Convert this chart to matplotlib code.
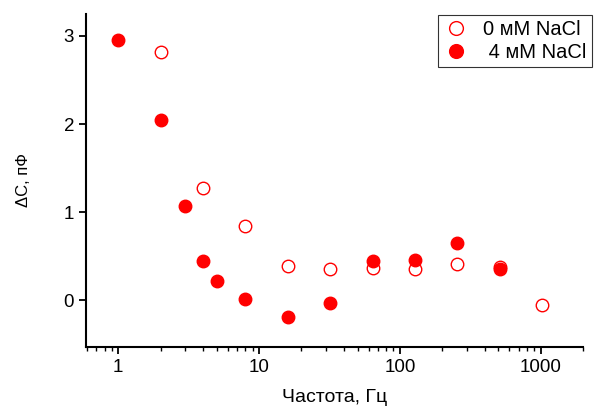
import numpy as np
import matplotlib
matplotlib.use('Agg')
import matplotlib.pyplot as plt

plt.rcParams['font.family'] = ['Liberation Sans', 'DejaVu Sans']

# 0 mM NaCl (open circles)
f0   = [2, 4, 8, 16, 32, 64, 128, 256, 512, 1024]
dc0  = [2.82, 1.27, 0.84, 0.39, 0.35, 0.37, 0.35, 0.41, 0.38, -0.05]
# 4 mM NaCl (filled circles)
f4   = [1, 2, 3, 4, 5, 8, 16, 32, 64, 128, 256, 512]
dc4  = [2.95, 2.05, 1.07, 0.45, 0.22, 0.01, -0.19, -0.03, 0.45, 0.46, 0.65, 0.36]

xticks = [1, 10, 100, 1000]
yticks = [0, 1, 2, 3]

fig = plt.figure(figsize=(6.03, 4.08), dpi=100)
ax = fig.add_axes([0.1426, 0.1495, 0.967 - 0.1426, 0.966 - 0.1495])

ax.plot(f0, dc0, 'o', mfc='white', mec='red', mew=1.0, ms=9, ls='none', label='0 мМ NaCl')
ax.plot(f4, dc4, 'o', mfc='red', mec='red', ms=9, ls='none', label=' 4 мМ NaCl')

ax.set_xscale('log')
ax.set_xlim(0.59, 2000)
ax.set_ylim(-0.53, 3.25)
ax.set_xticks(xticks)
ax.set_xticklabels([str(t) for t in xticks])
ax.set_yticks(yticks)

for s in ['top', 'right']:
  ax.spines[s].set_visible(False)
for s in ['left', 'bottom']:
  ax.spines[s].set_linewidth(1.5)
ax.tick_params(which='major', direction='out', length=5, width=1.3, labelsize=13.5)
ax.tick_params(which='minor', direction='out', length=3, width=1.0)

ax.set_xlabel('Частота, Гц', fontsize=14)
ax.set_ylabel('ΔC, пФ', fontsize=12)
ax.xaxis.set_label_coords(0.5, -0.125)
ax.yaxis.set_label_coords(-0.11, 0.5)

leg = fig.legend(loc='upper left', bbox_to_anchor=(438/603, 1 - 15/408),
                 fontsize=14.5, frameon=True, fancybox=False, borderpad=0.25,
                 handletextpad=0.7, labelspacing=0.2, handlelength=1.3,
                 borderaxespad=0, markerscale=1.1)
leg.get_frame().set_edgecolor('black')
leg.get_frame().set_linewidth(0.8)

fig.savefig('out.png', dpi=100)
